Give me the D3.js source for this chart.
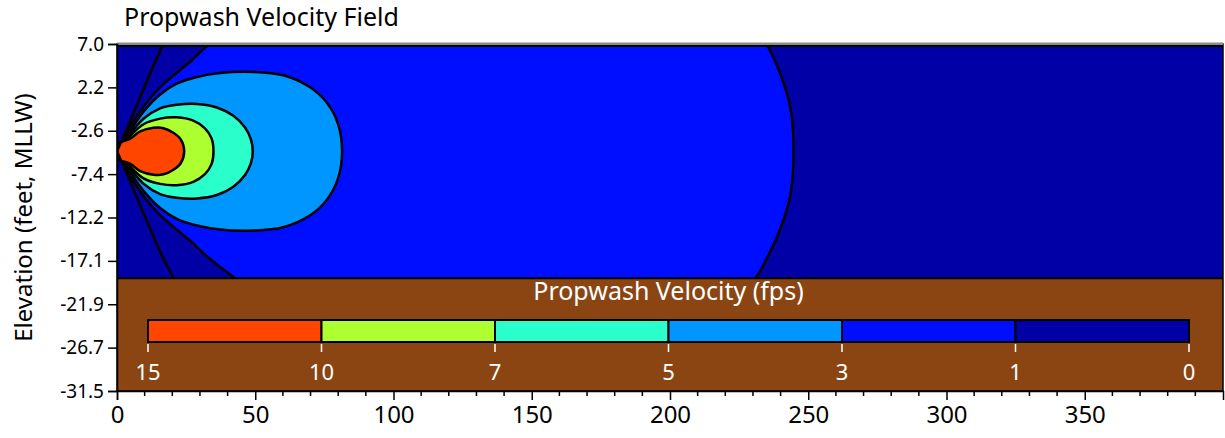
<!DOCTYPE html>
<html>
<head>
<meta charset="utf-8">
<script src="https://cdn.jsdelivr.net/npm/d3@7"></script>
<style>
  body { margin: 0; background: #fff; }
  svg text { font-family: "Noto Sans", "Open Sans", sans-serif; }
</style>
</head>
<body>
<div id="chart"></div>
<script>
"use strict";
// values (feet)
const surfaceElev = 6.7;
const mudlineElev = -19.0;
const shaftElev = -4.9;
const xMax = 400;
const yMin = -31.5, yMax = 7.0;

const legendLevels = ["15", "10", "7", "5", "3", "1", "0"];
const bandColors = ["#ff4500", "#adff2f", "#2affcc", "#0096ff", "#000eff", "#0000a6"];

const xMajorTicks = [0, 50, 100, 150, 200, 250, 300, 350];
const yTickValues = [7.0, 2.1875, -2.625, -7.4375, -12.25, -17.0625, -21.875, -26.6875, -31.5];
const yTickLabels = ["7.0", "2.2", "-2.6", "-7.4", "-12.2", "-17.1", "-21.9", "-26.7", "-31.5"];

// contour half-widths about the shaft: [distance from prop, half-width]
const contour10 = [[0, 0], [0.8, 0.9], [4.8, 1.4], [8.4, 2.2], [13.2, 2.6], [16.8, 2.56], [20.4, 2.05], [23.1, 1.3], [24.3, 0]];
const contour7 = [[0, 0], [4.8, 1.7], [9.6, 3.0], [15.6, 3.62], [21.6, 3.76], [27.6, 3.39], [31.8, 2.54], [34.2, 1.43], [34.9, 0]];
const contour5 = [[0, 0], [4.8, 1.95], [9.6, 3.6], [15.6, 4.75], [21.6, 5.15], [28.9, 5.24], [36.1, 4.86], [42.1, 3.94], [46.3, 2.64], [48.4, 1.35], [49.1, 0]];
const contour3 = [[0, 0], [4.8, 2.3], [9.6, 4.4], [15.6, 6.3], [21.6, 7.5], [28.9, 8.24], [37.3, 8.69], [49.3, 8.8], [60.1, 8.43], [69.7, 7.13], [75.7, 5.46], [79.9, 3.07], [81.4, 0]];
const contour1 = [[0, 0], [3, 1.9], [8, 4.3], [15, 6.9], [22, 8.8], [27.1, 10.1], [31.9, 11.5], [42.1, 13.96], [60, 17.5], [100, 21], [150, 21.5], [200, 18.5], [225, 15.5], [231, 14], [235.5, 11.6], [239.9, 8.6], [243.5, 4.9], [244.7, 0]];
const contour0 = [[0, 0], [3, 2.1], [16.2, 11.55], [20.4, 14.05], [28, 19.5]];

const width = 1225, height = 438;
const margin = {top: 44, right: 2, bottom: 47, left: 117};

const svg = d3.select("#chart").append("svg")
    .attr("width", width)
    .attr("height", height);

const x = d3.scaleLinear().domain([0, xMax]).range([margin.left, width - margin.right]);
const y = d3.scaleLinear().domain([yMin, yMax]).range([height - margin.bottom, margin.top]);

svg.append("defs").append("clipPath").attr("id", "water")
    .append("rect")
    .attr("x", x(0)).attr("y", y(surfaceElev))
    .attr("width", x(xMax) - x(0))
    .attr("height", y(mudlineElev) - y(surfaceElev));

const line = d3.line().x(d => x(d[0])).y(d => y(d[1])).curve(d3.curveCatmullRom);

function outline(profile) {
    const upper = profile.map(([d, h]) => [d, shaftElev + h]);
    const lower = profile.slice(0, -1).reverse().map(([d, h]) => [d, shaftElev - h]);
    return upper.concat(lower);
}

const water = svg.append("g").attr("clip-path", "url(#water)");
water.append("rect")
    .attr("x", x(0)).attr("y", y(surfaceElev))
    .attr("width", x(xMax) - x(0))
    .attr("height", y(mudlineElev) - y(surfaceElev))
    .attr("fill", bandColors[5]);

const regions = [contour1, contour3, contour5, contour7, contour10];
const regionColors = [bandColors[4], bandColors[3], bandColors[2], bandColors[1], bandColors[0]];
water.selectAll("path.band")
    .data(regions)
    .join("path")
    .attr("class", "band")
    .attr("d", d => line(outline(d)) + "Z")
    .attr("fill", (d, i) => regionColors[i])
    .attr("stroke", "#000")
    .attr("stroke-width", 2.5)
    .attr("stroke-linejoin", "round");

// the 0 fps contour, upper and lower branches
water.selectAll("path.zero")
    .data([1, -1])
    .join("path")
    .attr("class", "zero")
    .attr("d", s => line(contour0.map(([d, h]) => [d, shaftElev + s * h])))
    .attr("fill", "none")
    .attr("stroke", "#000")
    .attr("stroke-width", 2.5);

// sea bed
svg.append("rect")
    .attr("x", x(0)).attr("y", y(mudlineElev))
    .attr("width", x(xMax) - x(0))
    .attr("height", y(yMin) - y(mudlineElev))
    .attr("fill", "#8b4513");
svg.append("line")
    .attr("x1", x(0)).attr("x2", x(xMax))
    .attr("y1", y(mudlineElev)).attr("y2", y(mudlineElev))
    .attr("stroke", "#000").attr("stroke-width", 2);

// frame
svg.append("rect")
    .attr("x", x(0)).attr("y", y(yMax))
    .attr("width", x(xMax) - x(0))
    .attr("height", y(yMin) - y(yMax))
    .attr("fill", "none")
    .attr("stroke", "#000").attr("stroke-width", 1.5);

// water surface (drawn over the top of the frame)
svg.append("line")
    .attr("x1", x(0)).attr("x2", x(xMax))
    .attr("y1", y(yMax) - 0.3).attr("y2", y(yMax) - 0.3)
    .attr("stroke", "#8a8a8a").attr("stroke-width", 2.5);
svg.append("line")
    .attr("x1", x(0)).attr("x2", x(xMax))
    .attr("y1", y(surfaceElev) - 0.8).attr("y2", y(surfaceElev) - 0.8)
    .attr("stroke", "#000").attr("stroke-width", 2);

// legend colour bar in the sea bed
const legendX = d3.scaleLinear().domain([0, bandColors.length]).range([148, 1189]);
const legend = svg.append("g");
legend.append("text")
    .attr("x", legendX(3)).attr("y", 300)
    .attr("text-anchor", "middle")
    .attr("fill", "#fff")
    .attr("font-size", 25)
    .text("Propwash Velocity (fps)");
legend.selectAll("rect")
    .data(bandColors)
    .join("rect")
    .attr("x", (d, i) => legendX(i))
    .attr("y", 320)
    .attr("width", legendX(1) - legendX(0))
    .attr("height", 22)
    .attr("fill", d => d)
    .attr("stroke", "#000")
    .attr("stroke-width", 2);
legend.selectAll("line")
    .data(legendLevels)
    .join("line")
    .attr("x1", (d, i) => legendX(i)).attr("x2", (d, i) => legendX(i))
    .attr("y1", 344).attr("y2", 352)
    .attr("stroke", "#fff").attr("stroke-width", 1.5);
legend.selectAll("text.lvl")
    .data(legendLevels)
    .join("text")
    .attr("class", "lvl")
    .attr("x", (d, i) => legendX(i))
    .attr("y", 380)
    .attr("text-anchor", "middle")
    .attr("fill", "#fff")
    .attr("font-size", 22)
    .text(d => d);

// axes
const xAxis = svg.append("g")
    .attr("transform", `translate(0,${y(yMin)})`)
    .call(d3.axisBottom(x).tickValues(xMajorTicks).tickSize(9).tickPadding(6).tickFormat(d3.format("d")));
xAxis.append("g").selectAll("line")
    .data(d3.range(0, xMax, 10).filter(v => v % 50 !== 0))
    .join("line")
    .attr("x1", d => x(d)).attr("x2", d => x(d))
    .attr("y1", 0).attr("y2", 5)
    .attr("stroke", "#000").attr("stroke-width", 1.5);
xAxis.selectAll(".tick text").attr("font-size", 24).attr("fill", "#000");

const yAxis = svg.append("g")
    .attr("transform", `translate(${x(0)},0)`)
    .call(d3.axisLeft(y).tickValues(yTickValues).tickSize(9).tickPadding(4)
        .tickFormat((d, i) => yTickLabels[i]));
yAxis.selectAll(".tick text").attr("font-size", 19).attr("fill", "#000");
svg.selectAll(".domain").attr("stroke-width", 1.5);
svg.selectAll(".tick line").attr("stroke-width", 1.5);

svg.append("text")
    .attr("x", 124).attr("y", 26)
    .attr("font-size", 25)
    .text("Propwash Velocity Field");

svg.append("text")
    .attr("transform", `translate(32,${(y(yMax) + y(yMin)) / 2}) rotate(-90)`)
    .attr("text-anchor", "middle")
    .attr("font-size", 24)
    .text("Elevation (feet, MLLW)");
</script>
</body>
</html>
